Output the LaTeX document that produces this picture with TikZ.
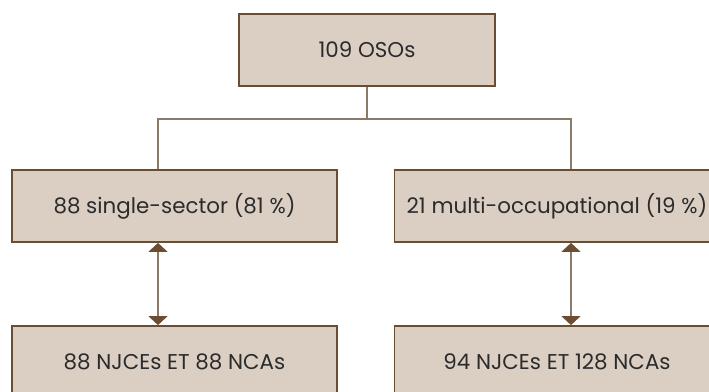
\documentclass[tikz,border=0pt]{standalone}
\usepackage{fontspec}
\setmainfont{Poppins}
\usetikzlibrary{arrows.meta}

\definecolor{boxfill}{HTML}{DBCFC4}
\definecolor{boxline}{HTML}{6B4D33}
\definecolor{wire}{HTML}{8C7A69}
\definecolor{txt}{HTML}{2B2B2B}

\begin{document}
\begin{tikzpicture}[x=0.5pt, y=-0.5pt,
    every node/.style={rectangle, draw=boxline, fill=boxfill, line width=0.9pt,
      text=txt, font=\fontsize{10.7}{12}\selectfont, inner sep=0pt, minimum height=36pt},
    tree/.style={draw=wire, line width=0.9pt},
    link/.style={draw=wire, line width=0.8pt,
      {Triangle[length=4.5pt, width=9.5pt, color=boxline]}-{Triangle[length=4.5pt, width=9.5pt, color=boxline]}}]
        \clip (0,0) rectangle (709,392);
        \useasboundingbox (0,0) rectangle (709,392);
        % top of the tree
        \node[minimum width=128pt] (oso) at (367, 50) {109 OSOs};
        % the two kinds of organisation
        \node[minimum width=162.5pt] (single) at (174.5, 206) {88 single-sector (81 \%)};
        \node[minimum width=162.5pt] (multi) at (557, 206) {21 multi-occupational (19 \%)};
        % their bodies
        \node[minimum width=162.5pt] (singlebody) at (174.5, 362) {88 NJCEs ET 88 NCAs};
        \node[minimum width=162.5pt] (multibody) at (557, 362) {94 NJCEs ET 128 NCAs};
        \coordinate (lbus) at (158, 119);
        \coordinate (rbus) at (571, 119);
        \draw[tree] (oso.south) -- (oso.south |- lbus);
        \draw[tree] (single.north -| lbus) -- (lbus) -- (rbus) -- (multi.north -| rbus);
        \draw[link] (single.south -| lbus) -- (singlebody.north -| lbus);
        \draw[link] (multi.south -| rbus) -- (multibody.north -| rbus);
    \end{tikzpicture}
\end{document}
